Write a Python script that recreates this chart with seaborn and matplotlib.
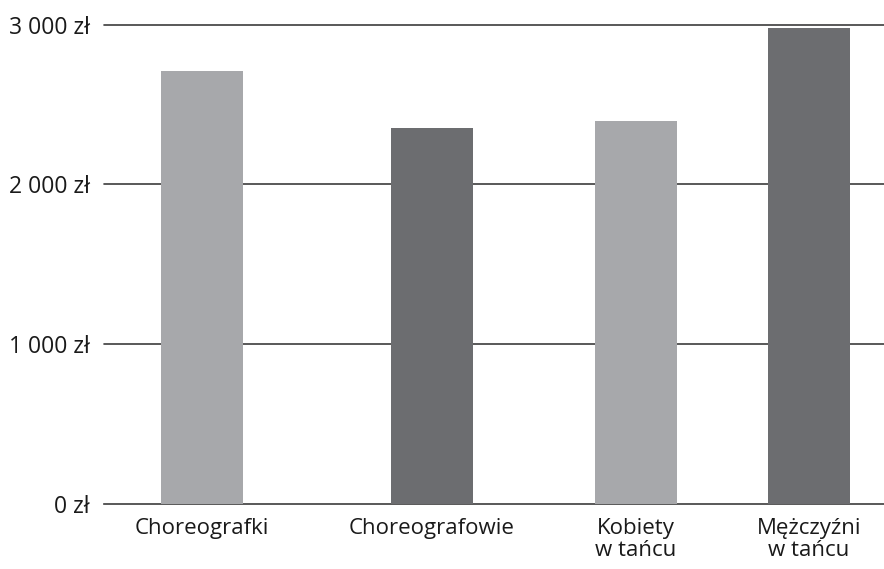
import matplotlib
matplotlib.use("Agg")
import matplotlib.pyplot as plt
import seaborn as sns
import pandas as pd
from matplotlib.ticker import FuncFormatter

# Average monthly pay by group
categories = ["Choreografki", "Choreografowie", "Kobiety\nw tańcu", "Mężczyźni\nw tańcu"]
values = [2712, 2354, 2398, 2975]
colors = ["#a7a8ab", "#6c6d70", "#a7a8ab", "#6c6d70"]
y_ticks = [0, 1000, 2000, 3000]

# horizontal slot centres of the bars (layout, in pixel units of the axis)
slots = [202, 432, 636, 809]

sns.set_theme(style="white")
plt.rcParams["font.family"] = ["Open Sans", "DejaVu Sans"]

df = pd.DataFrame({"slot": slots, "value": values, "group": categories})

fig = plt.figure(figsize=(8.84, 5.69), dpi=100)
ax = fig.add_axes([104 / 884, 1 - 504 / 569, 1 - 104 / 884, (504 - 24.5) / 569])

sns.barplot(data=df, x="slot", y="value", hue="group", palette=colors,
            native_scale=True, width=82 / 173, legend=False, saturation=1,
            linewidth=0, edgecolor="none", ax=ax, zorder=3)

ax.set_xlim(104, 884)
ax.set_ylim(0, 3000)
ax.set_yticks(y_ticks)
ax.yaxis.set_major_formatter(FuncFormatter(lambda v, _: f"{int(v):,}".replace(",", " ") + " zł"))
ax.set_xticks(slots)
ax.set_xticklabels(categories)
ax.set_xlabel("")
ax.set_ylabel("")

for y in y_ticks[1:]:
    ax.axhline(y, color="#3c3c3c", linewidth=1.2, zorder=1, clip_on=False)

for s in ["top", "right", "left"]:
    ax.spines[s].set_visible(False)
ax.spines["bottom"].set_color("#3c3c3c")
ax.spines["bottom"].set_linewidth(1.2)

ax.tick_params(axis="y", length=0, pad=10, labelsize=16.5, colors="#1a1a1a")
ax.tick_params(axis="x", length=0, pad=10, labelsize=16, colors="#1a1a1a")
for lbl in ax.get_xticklabels():
    lbl.set_linespacing(1.08)

fig.savefig("out.png", dpi=100)
